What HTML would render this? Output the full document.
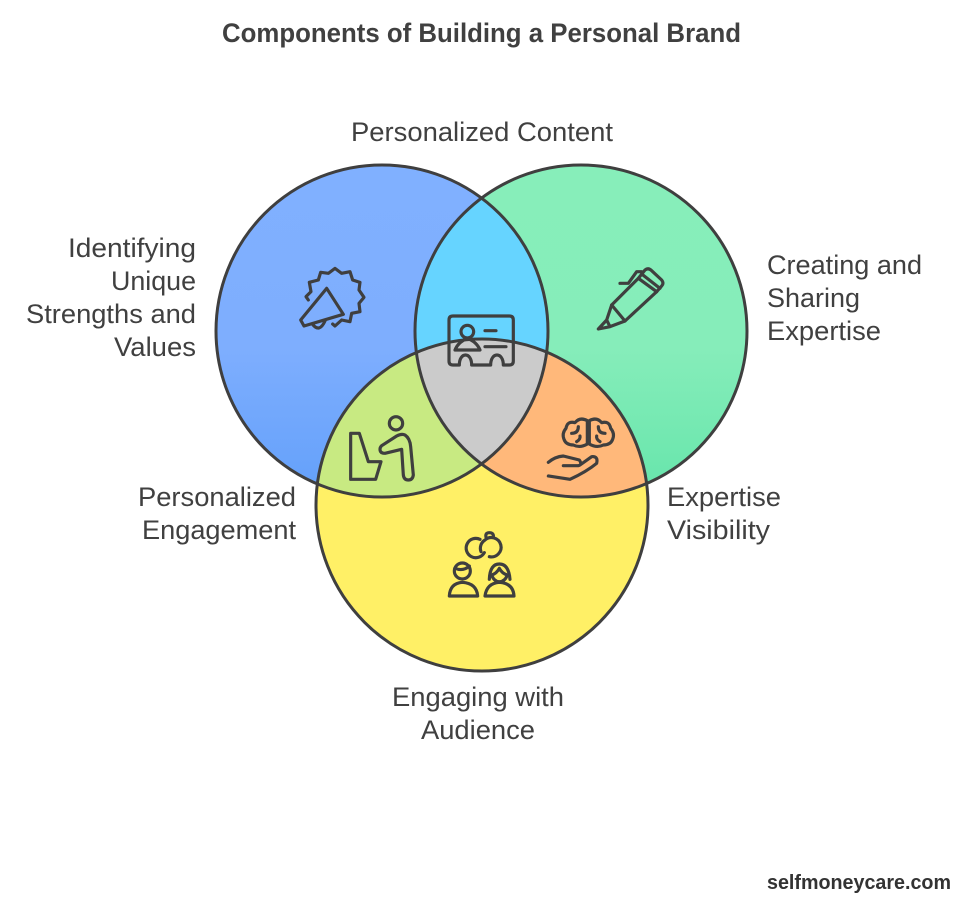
<!DOCTYPE html>
<html><head><meta charset="utf-8"><style>
html,body{margin:0;padding:0;background:#fff}
svg{display:block}
text{font-family:"Liberation Sans",sans-serif;fill:#404040;font-size:27px}
.i{fill:none;stroke:#3f3f3f;stroke-width:9.5;stroke-linecap:round;stroke-linejoin:round}
</style></head><body>
<svg width="980" height="917" viewBox="0 0 980 917" xmlns="http://www.w3.org/2000/svg">
<defs>
<linearGradient id="gb" x1="0" y1="0" x2="0" y2="1"><stop offset="0" stop-color="#80b0ff"/><stop offset=".55" stop-color="#7eaefe"/><stop offset="1" stop-color="#63a0fa"/></linearGradient>
<linearGradient id="gg" x1="0" y1="0" x2="0" y2="1"><stop offset="0" stop-color="#87eeba"/><stop offset=".55" stop-color="#86edba"/><stop offset="1" stop-color="#66e5ab"/></linearGradient>
<clipPath id="cb"><circle cx="382" cy="331" r="166"/></clipPath>
<clipPath id="cg"><circle cx="581" cy="331" r="166"/></clipPath>
<clipPath id="cy"><circle cx="482" cy="505" r="166"/></clipPath>
</defs>
<rect width="980" height="917" fill="#fff"/>
<text x="222" y="42" textLength="519" lengthAdjust="spacingAndGlyphs" style="font-weight:700;font-size:27px">Components of Building a Personal Brand</text>

<circle cx="382" cy="331" r="166" fill="url(#gb)"/>
<circle cx="581" cy="331" r="166" fill="url(#gg)"/>
<circle cx="482" cy="505" r="166" fill="#fff066"/>
<g clip-path="url(#cb)"><circle cx="581" cy="331" r="166" fill="#66d4ff"/></g>
<g clip-path="url(#cb)"><circle cx="482" cy="505" r="166" fill="#c8ea82"/></g>
<g clip-path="url(#cg)"><circle cx="482" cy="505" r="166" fill="#ffb87a"/></g>
<g clip-path="url(#cb)"><g clip-path="url(#cg)"><circle cx="482" cy="505" r="166" fill="#cbcbcb"/></g></g>
<g fill="none" stroke="#3f3f3f" stroke-width="3">
<circle cx="382" cy="331" r="166"/>
<circle cx="581" cy="331" r="166"/>
<circle cx="482" cy="505" r="166"/>
</g>

<!-- megaphone -->
<g transform="translate(280,250) scale(.3333)" class="i">
<path d="M62,210 L140,115 L190,193 L72,228 Z"/>
<path d="M97,222 Q118,250 135,213"/>
<path d="M85,150 L78,140 L93,125 L88,97 L115,90 L122,67 L145,70 L165,55 L185,70 L210,65 L218,90 L240,97 L237,120 L252,142 L237,160 L240,185 L215,190 L210,215 L185,210 L165,228 L158,222"/>
</g>
<!-- card -->
<g transform="translate(430,300) scale(.3333)" class="i">
<path d="M57,60 Q57,48 69,48 H238 Q250,48 250,60 V183 Q250,195 238,195 H220 C220,155 182,155 182,195 H125 C125,155 88,155 88,195 H69 Q57,195 57,183 Z"/>
<circle cx="112" cy="95" r="19"/>
<path d="M75,150 Q85,125 112,115 Q140,125 150,150 Z"/>
<path d="M165,92 H198 M165,140 H228"/>
</g>
<!-- pen -->
<g transform="translate(580,250) scale(.3333)" class="i">
<path d="M95,165 L175,85 L230,125 L135,213 Z"/>
<path d="M95,165 L80,210 L55,237 L90,230 L135,213 M80,210 L90,230"/>
<path d="M175,85 L195,60 Q205,52 215,62 L245,90 Q253,100 245,108 L230,125"/>
<path d="M185,72 L240,115"/>
<path d="M120,100 H145 L170,65 H185"/>
</g>
<!-- person and chair -->
<g transform="translate(330,400) scale(.3333)" class="i">
<circle cx="198" cy="70" r="20"/>
<path d="M62,100 H88 L115,185 H153 L137,238 H62 Z"/>
<path d="M155,137 L200,108 Q215,100 225,105 Q240,115 242,140 L250,225 Q248,240 235,240 Q222,240 220,225 L215,148 L165,160 Q150,160 150,148 Q150,142 155,137 Z"/>
</g>
<!-- brain and hand -->
<g transform="translate(530,400) scale(.3333)" class="i">
<path d="M172,62 Q150,50 135,68 Q112,62 108,85 Q95,100 102,118 Q108,135 130,135 Q150,145 172,132 Z"/>
<path d="M178,62 Q200,50 215,68 Q238,62 242,85 Q255,100 248,118 Q242,135 220,135 Q200,145 178,132 Z"/>
<path d="M125,100 Q145,100 145,80 M140,125 Q152,118 150,108"/>
<path d="M225,100 Q205,100 205,80 M210,125 Q198,118 200,108"/>
<path d="M55,187 Q75,170 100,168 L148,180 Q158,195 145,197 H100 M150,195 L185,170 Q205,168 200,190 Q170,215 120,238 L55,228"/>
</g>
<!-- audience -->
<g transform="translate(430,520) scale(.3333)" class="i">
<path d="M150,58 A29,29 0 1 0 163,98"/>
<path d="M153,95 A29,29 0 0 1 165,60 A29,29 0 1 1 178,110"/>
<path d="M168,52 Q165,38 178,38 Q192,38 190,52"/>
<circle cx="97" cy="153" r="24"/>
<path d="M75,145 Q100,155 118,138"/>
<path d="M58,228 Q60,190 97,187 Q140,190 143,228 Z"/>
<path d="M178,178 Q180,132 208,132 Q236,132 240,178"/>
<path d="M185,165 Q200,160 208,145 Q216,160 232,165 Q225,185 208,185 Q192,185 185,165 Z"/>
<path d="M165,228 Q170,190 208,187 Q250,190 252,228 Z"/>
</g>

<text x="351" y="141" textLength="262" lengthAdjust="spacingAndGlyphs">Personalized Content</text>
<text x="68" y="257" textLength="128" lengthAdjust="spacingAndGlyphs">Identifying</text>
<text x="111" y="290" textLength="85" lengthAdjust="spacingAndGlyphs">Unique</text>
<text x="26" y="323" textLength="170" lengthAdjust="spacingAndGlyphs">Strengths and</text>
<text x="114" y="356" textLength="82" lengthAdjust="spacingAndGlyphs">Values</text>
<text x="767" y="274" textLength="155" lengthAdjust="spacingAndGlyphs">Creating and</text>
<text x="767" y="307" textLength="93" lengthAdjust="spacingAndGlyphs">Sharing</text>
<text x="767" y="340" textLength="114" lengthAdjust="spacingAndGlyphs">Expertise</text>
<text x="138" y="506" textLength="158" lengthAdjust="spacingAndGlyphs">Personalized</text>
<text x="142" y="539" textLength="154" lengthAdjust="spacingAndGlyphs">Engagement</text>
<text x="667" y="506" textLength="114" lengthAdjust="spacingAndGlyphs">Expertise</text>
<text x="667" y="539" textLength="103" lengthAdjust="spacingAndGlyphs">Visibility</text>
<text x="392" y="706" textLength="172" lengthAdjust="spacingAndGlyphs">Engaging with</text>
<text x="421" y="739" textLength="114" lengthAdjust="spacingAndGlyphs">Audience</text>
<text x="767" y="889" textLength="184" lengthAdjust="spacingAndGlyphs" style="font-size:20px;font-weight:700;fill:#333">selfmoneycare.com</text>
</svg>
</body></html>
